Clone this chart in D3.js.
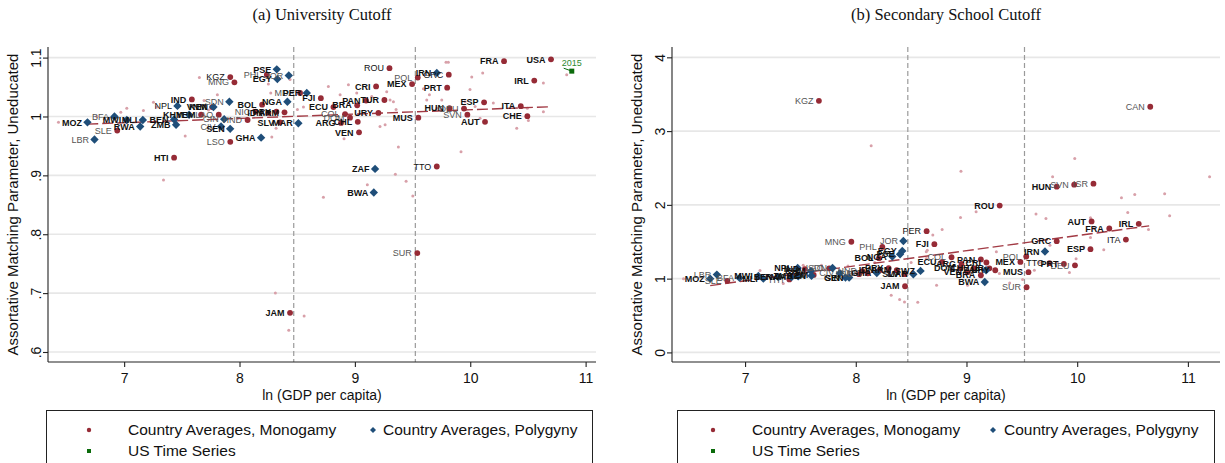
<!DOCTYPE html>
<html>
<head>
<meta charset="utf-8">
<script src="https://cdn.jsdelivr.net/npm/d3@7"></script>
<style>
  body { margin: 0; background: #fff; }
  svg { display: block; }
</style>
</head>
<body>
<svg id="chart" width="1225" height="463"></svg>
<script>
// ---------------- data ----------------
const xTicks = [7, 8, 9, 10, 11];
const uniYTicks = [0.6, 0.7, 0.8, 0.9, 1.0, 1.1];
const secYTicks = [0, 1, 2, 3, 4];
const gdpThresholds = [8.47, 9.524];

// University cutoff: [country, ln GDP per capita, matching parameter]
const uniMonogamy = [
  ["KGZ", 7.92, 1.067], ["MNG", 7.956, 1.058], ["IND", 7.587, 1.029], ["VNM", 7.763, 1.016],
  ["LAO", 7.82, 1.003], ["YEM", 7.667, 1.003], ["SLE", 6.94, 0.976], ["HTI", 7.433, 0.930],
  ["LSO", 7.92, 0.957], ["HND", 8.07, 0.994], ["NIC", 8.14, 1.008], ["BOL", 8.196, 1.020],
  ["IDN", 8.25, 1.006], ["PRY", 8.32, 1.008], ["ARM", 8.39, 1.007], ["SLV", 8.35, 0.990],
  ["PHL", 8.237, 1.071], ["MDA", 8.525, 1.040], ["FJI", 8.705, 1.031], ["ECU", 8.814, 1.016],
  ["COL", 8.915, 1.004], ["DOM", 8.958, 0.998], ["ARG", 8.88, 0.989], ["CHL", 9.025, 0.991],
  ["BRA", 9.02, 1.019], ["PAN", 9.097, 1.027], ["TUR", 9.256, 1.028], ["URY", 9.204, 1.006],
  ["VEN", 9.036, 0.973], ["CRI", 9.184, 1.051], ["ROU", 9.30, 1.082], ["MEX", 9.496, 1.055],
  ["POL", 9.545, 1.066], ["MUS", 9.55, 0.998], ["SUR", 9.541, 0.768], ["TTO", 9.71, 0.915],
  ["GRC", 9.814, 1.071], ["PRT", 9.80, 1.049], ["HUN", 9.82, 1.014], ["DEU", 9.946, 1.0135],
  ["SVN", 9.975, 1.003], ["ESP", 10.12, 1.024], ["AUT", 10.128, 0.991], ["FRA", 10.293, 1.094],
  ["ITA", 10.438, 1.0175], ["CHE", 10.495, 1.0005], ["IRL", 10.555, 1.061], ["USA", 10.70, 1.097],
  ["JAM", 8.438, 0.6665]
];
const uniPolygyny = [
  ["MOZ", 6.682, 0.990], ["BFA", 6.916, 1.000], ["LBR", 6.743, 0.961], ["MWI", 7.023, 0.994],
  ["MLI", 7.162, 0.994], ["RWA", 7.139, 0.983], ["BEN", 7.433, 0.995], ["ZMB", 7.45, 0.986],
  ["KHM", 7.563, 1.003], ["NPL", 7.462, 1.018], ["KEN", 7.774, 1.016], ["SDN", 7.912, 1.025],
  ["GIN", 7.867, 0.9955], ["CIV", 7.84, 0.983], ["SEN", 7.919, 0.979], ["GHA", 8.187, 0.964],
  ["NGA", 8.415, 1.025], ["PSE", 8.323, 1.080], ["JOR", 8.427, 1.0695], ["EGY", 8.328, 1.0635],
  ["PER", 8.583, 1.040], ["MAR", 8.51, 0.9886], ["IRN", 9.71, 1.074], ["ZAF", 9.175, 0.911],
  ["BWA", 9.164, 0.871]
];
// individual census samples: [ln GDP per capita, matching parameter]
const uniSamples = [
  [6.431, 0.990], [6.763, 1.000], [6.971, 1.007], [7.023, 1.014], [7.167, 1.010], [7.254, 1.024],
  [7.283, 1.016], [7.529, 0.967], [7.652, 1.066], [7.693, 1.027], [7.731, 1.011], [7.808, 1.037],
  [7.982, 0.997], [8.120, 1.011], [8.250, 1.055], [8.271, 1.040], [8.280, 0.965], [8.317, 0.980],
  [8.438, 1.063], [8.502, 1.012], [8.554, 1.016], [7.341, 0.892], [8.311, 0.700], [8.427, 0.637],
  [8.560, 0.661], [8.770, 1.051], [8.872, 1.037], [8.944, 1.054], [9.016, 1.040], [9.146, 1.034],
  [9.276, 1.042], [9.305, 1.028], [9.334, 1.025], [9.357, 1.012], [9.218, 0.983], [9.262, 0.986],
  [9.377, 0.948], [8.906, 0.962], [9.594, 1.047], [9.623, 1.028], [9.646, 1.037], [9.710, 1.014],
  [9.753, 1.028], [9.790, 1.092], [9.810, 1.092], [9.955, 1.025], [10.013, 1.067], [10.108, 1.074],
  [9.998, 1.046], [10.042, 1.017], [10.085, 0.997], [9.920, 0.940], [10.200, 1.023], [10.403, 0.980],
  [10.495, 1.014], [10.504, 0.993], [10.634, 1.057], [10.634, 1.008], [10.836, 1.071], [8.727, 0.863],
  [9.108, 0.884], [9.351, 0.902], [9.444, 0.890], [9.502, 0.865]
];
const uniFit = [[6.68, 0.987], [10.69, 1.0165]];
const usYears = [2010, 2015];
const usGdp = [10.81, 10.88];
const usMatch = [1.082, 1.077];

// Secondary school cutoff
const secMonogamy = [
  ["KGZ", 7.667, 3.41], ["CAN", 10.66, 3.33], ["ROU", 9.30, 1.99], ["HUN", 9.815, 2.246],
  ["SVN", 9.973, 2.274], ["ISR", 10.147, 2.287], ["AUT", 10.13, 1.776], ["FRA", 10.29, 1.68],
  ["IRL", 10.556, 1.743], ["ITA", 10.44, 1.53], ["ESP", 10.12, 1.40], ["GRC", 9.815, 1.508],
  ["DEU", 9.98, 1.18], ["PRT", 9.88, 1.20], ["TTO", 9.75, 1.21], ["POL", 9.54, 1.30],
  ["MEX", 9.487, 1.227], ["MUS", 9.56, 1.087], ["SUR", 9.543, 0.883], ["PER", 8.64, 1.644],
  ["FJI", 8.71, 1.467], ["MNG", 7.96, 1.50], ["PHL", 8.24, 1.43], ["JAM", 8.445, 0.897],
  ["ECU", 8.78, 1.227], ["COL", 8.865, 1.29], ["PAN", 9.13, 1.26], ["CRI", 9.18, 1.219],
  ["URY", 9.26, 1.114], ["BRA", 9.13, 1.046], ["ARG", 8.955, 1.20], ["DOM", 8.946, 1.141],
  ["CHL", 9.07, 1.14], ["VEN", 9.01, 1.087], ["TUR", 9.207, 1.14], ["BOL", 8.21, 1.277],
  ["NIC", 8.108, 1.073], ["IDN", 8.216, 1.114], ["PRY", 8.297, 1.141], ["ARM", 8.37, 1.114],
  ["SLV", 8.44, 1.06], ["SLE", 6.84, 0.97], ["HTI", 7.40, 0.99], ["IND", 7.54, 1.13],
  ["LAO", 7.76, 1.14], ["YEM", 7.62, 1.05], ["LSO", 8.03, 1.06], ["HND", 8.06, 1.10]
];
const secPolygyny = [
  ["MOZ", 6.685, 1.00], ["LBR", 6.745, 1.055], ["BFA", 6.95, 1.01], ["MWI", 7.12, 1.037],
  ["MLI", 7.165, 1.00], ["BEN", 7.30, 1.02], ["RWA", 7.42, 1.023], ["ZMB", 7.48, 1.033],
  ["NPL", 7.475, 1.145], ["KHM", 7.595, 1.105], ["KEN", 7.60, 1.04], ["SDN", 7.79, 1.145],
  ["GIN", 7.907, 1.015], ["SEN", 7.94, 1.015], ["CIV", 7.856, 1.073], ["GHA", 8.19, 1.077],
  ["NGA", 8.33, 1.30], ["PSE", 8.40, 1.33], ["EGY", 8.42, 1.376], ["JOR", 8.43, 1.51],
  ["MAR", 8.52, 1.06], ["SWZ", 8.585, 1.105], ["IRN", 9.709, 1.368], ["ZAF", 9.177, 1.114],
  ["BWA", 9.165, 0.955]
];
const secSamples = [
  [8.139, 2.80], [8.95, 2.455], [9.778, 2.382], [9.978, 2.627], [10.40, 2.097], [10.52, 2.14],
  [10.79, 2.151], [11.196, 2.382], [8.946, 1.83], [9.087, 1.906], [8.78, 1.667], [9.628, 1.875],
  [9.718, 1.816], [10.12, 1.825], [10.457, 1.898], [10.835, 1.852], [10.644, 1.667], [10.12, 1.557],
  [9.99, 1.27], [9.93, 1.083], [9.754, 1.454], [9.613, 1.114], [9.507, 0.988], [9.27, 1.363],
  [8.73, 0.91], [8.44, 0.684], [8.646, 1.386], [9.297, 1.069], [6.444, 1.0], [7.525, 1.182],
  [7.69, 1.182], [7.345, 0.933], [8.396, 0.716], [8.32, 0.774], [8.637, 1.273], [8.696, 1.59],
  [8.637, 1.363], [9.658, 1.22], [9.82, 1.22], [10.06, 1.43], [10.24, 1.39], [10.15, 1.68],
  [9.01, 0.91], [9.39, 0.94], [6.84, 0.95], [7.135, 1.11], [7.93, 1.17], [8.17, 1.22],
  [8.50, 1.22], [8.56, 0.68]
];
const secFit = [[6.685, 0.906], [10.65, 1.716]];

const legendItems = ["Country Averages, Monogamy", "Country Averages, Polygyny", "US Time Series"];

// ---------------- styling ----------------
const SANS = "'Liberation Sans', Arial, Helvetica, sans-serif";
const SERIF = "'Liberation Serif', 'Times New Roman', serif";
const RED = "#962b36", BLUE = "#1f4e79", GREEN = "#0b6b0b", PINK = "#d8a0a9";

// label tone per panel: "soft" = grey regular, "plain" = black regular, otherwise bold
const labelTone = {
  uni: {
    soft: new Set(["MNG", "LAO", "SDN", "BFA", "SLE", "LBR", "GIN", "HND", "CIV", "LSO", "NIC",
                   "PHL", "JOR", "MDA", "COL", "DOM", "POL", "DEU", "SVN", "SUR"]),
    plain: new Set(["KGZ", "NPL", "ROU", "GRC", "TTO"])
  },
  sec: {
    soft: new Set(["KGZ", "CAN", "SVN", "ISR", "DEU", "POL", "SUR", "MNG", "PHL", "JOR", "COL",
                   "LBR", "SLE", "HTI", "LAO", "SDN", "CIV", "LSO", "NIC", "HND", "BFA"]),
    plain: new Set(["PER", "TTO", "ITA"])
  }
};

const svg = d3.select("#chart");

const fmtTick = d => {
  const s = String(+d.toFixed(1));
  return s.startsWith("0.") ? s.slice(1) : s;
};

const diamond = r => `M0,${-r}L${r},0L0,${r}L${-r},0Z`;

function drawPanel(o) {
  const g = svg.append("g");
  const x = d3.scaleLinear().domain(o.xDomain).range([o.left, o.right]);
  const y = d3.scaleLinear().domain(o.yDomain).range([o.bottom, o.top]);
  const tone = labelTone[o.key];

  // title
  g.append("text").attr("x", (o.left + o.right) / 2).attr("y", 20)
    .attr("text-anchor", "middle").attr("font-family", SERIF).attr("font-size", 16.5)
    .attr("fill", "#111").text(o.title);

  // horizontal gridlines
  g.append("g").selectAll("line").data(o.yTicks).join("line")
    .attr("x1", o.left).attr("x2", o.right)
    .attr("y1", d => y(d)).attr("y2", d => y(d))
    .attr("stroke", "#e7e7e7").attr("stroke-width", 1.6);

  // GDP thresholds
  g.append("g").selectAll("line").data(gdpThresholds).join("line")
    .attr("x1", d => x(d)).attr("x2", d => x(d))
    .attr("y1", o.top).attr("y2", o.bottom)
    .attr("stroke", "#9a9a9a").attr("stroke-width", 1.2).attr("stroke-dasharray", "5,3");

  // census samples
  g.append("g").selectAll("circle").data(o.samples).join("circle")
    .attr("cx", d => x(d[0])).attr("cy", d => y(d[1])).attr("r", 1.5)
    .attr("fill", PINK);

  // fitted line
  g.append("path").datum(o.fit)
    .attr("d", d3.line().x(d => x(d[0])).y(d => y(d[1])))
    .attr("fill", "none").attr("stroke", "#a23a44").attr("stroke-width", 1.4)
    .attr("stroke-dasharray", "11,4");

  // US time series
  if (o.us) {
    const pts = o.us.years.map((yr, i) => ({ yr, gx: o.us.gdp[i], v: o.us.match[i] }));
    g.append("path").datum(pts)
      .attr("d", d3.line().x(d => x(d.gx)).y(d => y(d.v)))
      .attr("fill", "none").attr("stroke", GREEN).attr("stroke-width", 1);
    const last = pts[pts.length - 1];
    g.append("rect").attr("x", x(last.gx) - 2.5).attr("y", y(last.v) - 2.5)
      .attr("width", 5).attr("height", 5).attr("fill", GREEN);
    g.append("text").attr("x", x(last.gx)).attr("y", y(last.v) - 5)
      .attr("text-anchor", "middle").attr("font-family", SANS).attr("font-size", 9)
      .attr("fill", "#2f8a2f").text(last.yr);
  }

  // country averages
  g.append("g").selectAll("circle").data(o.mono).join("circle")
    .attr("cx", d => x(d[1])).attr("cy", d => y(d[2])).attr("r", 2.9).attr("fill", RED);
  g.append("g").selectAll("path").data(o.poly).join("path")
    .attr("transform", d => `translate(${x(d[1])},${y(d[2])})`)
    .attr("d", diamond(4.2)).attr("fill", BLUE);

  // country labels, placed to the left of each marker
  const labels = o.mono.concat(o.poly);
  g.append("g").selectAll("text").data(labels).join("text")
    .attr("x", d => x(d[1]) - 5.5).attr("y", d => y(d[2])).attr("dy", "0.35em")
    .attr("text-anchor", "end").attr("font-family", SANS).attr("font-size", 9)
    .attr("font-weight", d => (tone.soft.has(d[0]) || tone.plain.has(d[0])) ? "normal" : "bold")
    .attr("fill", d => tone.soft.has(d[0]) ? "#555" : "#111")
    .text(d => d[0]);

  // axes
  const yAxis = g.append("g").attr("transform", `translate(${o.left},0)`)
    .call(d3.axisLeft(y).tickValues(o.yTicks).tickFormat(fmtTick).tickSize(5).tickSizeOuter(0));
  yAxis.select(".domain").attr("d", `M0,${o.top}V${o.bottom}`);
  yAxis.selectAll("text")
    .attr("x", null).attr("dy", null)
    .attr("transform", "translate(-7,0) rotate(-90)")
    .attr("text-anchor", "middle");

  const xAxis = g.append("g").attr("transform", `translate(0,${o.bottom})`)
    .call(d3.axisBottom(x).tickValues(xTicks).tickFormat(d3.format("d")).tickSize(5).tickSizeOuter(0));
  xAxis.select(".domain").attr("d", `M${o.left},0H${o.right}`);
  xAxis.selectAll("text").attr("y", 11);

  [yAxis, xAxis].forEach(a => {
    a.selectAll("text").attr("font-family", SANS).attr("font-size", 14).attr("fill", "#111");
    a.selectAll("line,path").attr("stroke", "#222").attr("stroke-width", 1.1);
  });

  // axis titles
  g.append("text").attr("x", (o.left + o.right) / 2).attr("y", 400)
    .attr("text-anchor", "middle").attr("font-family", SANS).attr("font-size", 14)
    .attr("fill", "#111").text("ln (GDP per capita)");
  g.append("text")
    .attr("transform", `translate(${o.left - 30},${(o.top + o.bottom) / 2}) rotate(-90)`)
    .attr("text-anchor", "middle").attr("font-family", SANS).attr("font-size", 15)
    .attr("fill", "#111").text("Assortative Matching Parameter, Uneducated");

  // legend
  const L = o.legend;
  const lg = g.append("g");
  lg.append("rect").attr("x", L.box[0] + 0.5).attr("y", 410.5)
    .attr("width", L.box[1] - L.box[0]).attr("height", 70)
    .attr("fill", "#fff").attr("stroke", "#222").attr("stroke-width", 1);
  const row1 = 430, row2 = 451;
  lg.append("circle").attr("cx", L.dot).attr("cy", row1).attr("r", 2.2).attr("fill", RED);
  lg.append("path").attr("transform", `translate(${L.dia},${row1})`).attr("d", diamond(3)).attr("fill", BLUE);
  lg.append("rect").attr("x", L.dot - 2).attr("y", row2 - 2).attr("width", 4).attr("height", 4).attr("fill", GREEN);
  const legText = [[L.text1, row1, legendItems[0]], [L.text2, row1, legendItems[1]], [L.text1, row2, legendItems[2]]];
  lg.selectAll("text.leg").data(legText).join("text")
    .attr("x", d => d[0]).attr("y", d => d[1]).attr("dy", "0.35em")
    .attr("font-family", SANS).attr("font-size", 15.5).attr("fill", "#111")
    .text(d => d[2]);
}

drawPanel({
  key: "uni", title: "(a) University Cutoff",
  left: 48, right: 596, top: 47, bottom: 362,
  xDomain: [6.34, 11.09], yDomain: [0.583, 1.118], yTicks: uniYTicks,
  mono: uniMonogamy, poly: uniPolygyny, samples: uniSamples, fit: uniFit,
  us: { years: usYears, gdp: usGdp, match: usMatch },
  legend: { box: [46, 592], dot: 89, text1: 128, dia: 373, text2: 383 }
});

drawPanel({
  key: "sec", title: "(b) Secondary School Cutoff",
  left: 672, right: 1220, top: 47, bottom: 362,
  xDomain: [6.34, 11.29], yDomain: [-0.13, 4.14], yTicks: secYTicks,
  mono: secMonogamy, poly: secPolygyny, samples: secSamples, fit: secFit,
  us: null,
  legend: { box: [677, 1214], dot: 713, text1: 752, dia: 993, text2: 1004 }
});
</script>
</body>
</html>
